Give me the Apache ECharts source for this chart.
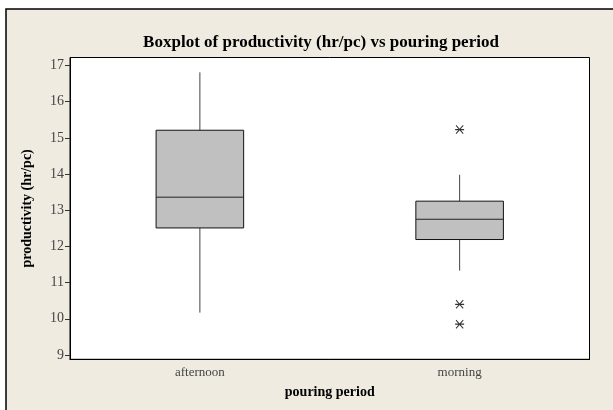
<!DOCTYPE html>
<html lang="en">
<head>
    <meta charset="UTF-8">
    <title>Boxplot of productivity (hr/pc) vs pouring period</title>
    <script src="https://cdn.jsdelivr.net/npm/echarts@6/dist/echarts.min.js"></script>
    <style>
        html, body { margin: 0; padding: 0; background: #fff; }
    </style>
</head>
<body>
    <div id="chart" style="width: 613px; height: 410px;"></div>
    <script>
        // data
        var periods = ['afternoon', 'morning'];
        // [whisker low, Q1, median, Q3, whisker high]
        var afternoonBox = [10.17, 12.51, 13.36, 15.21, 16.81];
        var morningBox = [11.33, 12.19, 12.75, 13.25, 13.98];
        var morningOutliers = [15.23, 10.40, 9.85];
        var yTicks = [9, 10, 11, 12, 13, 14, 15, 16, 17];

        var boxes = [afternoonBox, morningBox];
        var boxData = [];
        for (var i = 0; i < boxes.length; i++) {
            boxData.push([i].concat(boxes[i]));
        }
        var outlierData = [];
        for (var j = 0; j < morningOutliers.length; j++) {
            outlierData.push([1, morningOutliers[j]]);
        }

        var serif = '"Liberation Serif", "DejaVu Serif", serif';
        var asterisk = 'path://M0 4.4L10 4.4L10 5.6L0 5.6Z' +
            'M0.6 1.4L1.4 0.6L9.4 8.6L8.6 9.4Z' +
            'M8.6 0.6L9.4 1.4L1.4 9.4L0.6 8.6Z';

        var chart = echarts.init(document.getElementById('chart'));

        var option = {
            backgroundColor: '#ffffff',
            animation: false,
            graphic: [{
                type: 'rect',
                z: -10,
                shape: { x: 6, y: 9, width: 620, height: 420 },
                style: { fill: '#efebe1', stroke: '#000', lineWidth: 1.5 }
            }],
            title: {
                text: 'Boxplot of productivity (hr/pc) vs pouring period',
                left: 316,
                top: 29,
                textAlign: 'center',
                textStyle: { fontFamily: serif, fontWeight: 'bold', fontSize: 17, color: '#000' }
            },
            grid: {
                left: 70, top: 57.5, right: 23.5, bottom: 50.7,
                show: true,
                backgroundColor: '#ffffff',
                borderColor: '#000',
                borderWidth: 1
            },
            xAxis: {
                type: 'category',
                data: periods,
                name: 'pouring period',
                nameLocation: 'middle',
                nameGap: 26,
                nameTextStyle: { fontFamily: serif, fontWeight: 'bold', fontSize: 14, color: '#000' },
                axisLine: { lineStyle: { color: '#000' } },
                axisTick: { alignWithLabel: true, length: 5, lineStyle: { color: '#333' } },
                axisLabel: { fontFamily: serif, fontSize: 13, color: '#444', margin: 7 },
                splitLine: { show: false }
            },
            yAxis: {
                type: 'value',
                min: 8.88,
                max: 17.22,
                name: 'productivity (hr/pc)',
                nameLocation: 'middle',
                nameGap: 36,
                nameTextStyle: { fontFamily: serif, fontWeight: 'bold', fontSize: 14, color: '#000' },
                axisLine: { show: true, lineStyle: { color: '#000' } },
                axisTick: { show: true, length: 5, customValues: yTicks, lineStyle: { color: '#333' } },
                axisLabel: { fontFamily: serif, fontSize: 14, color: '#444', margin: 6, customValues: yTicks },
                splitLine: { show: false }
            },
            series: [
                {
                    type: 'custom',
                    data: boxData,
                    renderItem: function (params, api) {
                        var cat = api.value(0);
                        var lo = api.coord([cat, api.value(1)]);
                        var q1 = api.coord([cat, api.value(2)]);
                        var med = api.coord([cat, api.value(3)]);
                        var q3 = api.coord([cat, api.value(4)]);
                        var hi = api.coord([cat, api.value(5)]);
                        var w = api.size([1, 0])[0] * 0.337;
                        var x = lo[0];
                        return {
                            type: 'group',
                            children: [
                                { type: 'line', shape: { x1: x, y1: hi[1], x2: x, y2: q3[1] },
                                  style: { stroke: '#444', lineWidth: 1 } },
                                { type: 'line', shape: { x1: x, y1: q1[1], x2: x, y2: lo[1] },
                                  style: { stroke: '#444', lineWidth: 1 } },
                                { type: 'rect', shape: { x: x - w / 2, y: q3[1], width: w, height: q1[1] - q3[1] },
                                  style: { fill: '#c0c0c0', stroke: '#111', lineWidth: 1 } },
                                { type: 'line', shape: { x1: x - w / 2, y1: med[1], x2: x + w / 2, y2: med[1] },
                                  style: { stroke: '#222', lineWidth: 1 } }
                            ]
                        };
                    }
                },
                {
                    type: 'scatter',
                    data: outlierData,
                    symbol: asterisk,
                    symbolSize: 9,
                    itemStyle: { color: '#000' }
                }
            ]
        };

        chart.setOption(option);
    </script>
</body>
</html>
